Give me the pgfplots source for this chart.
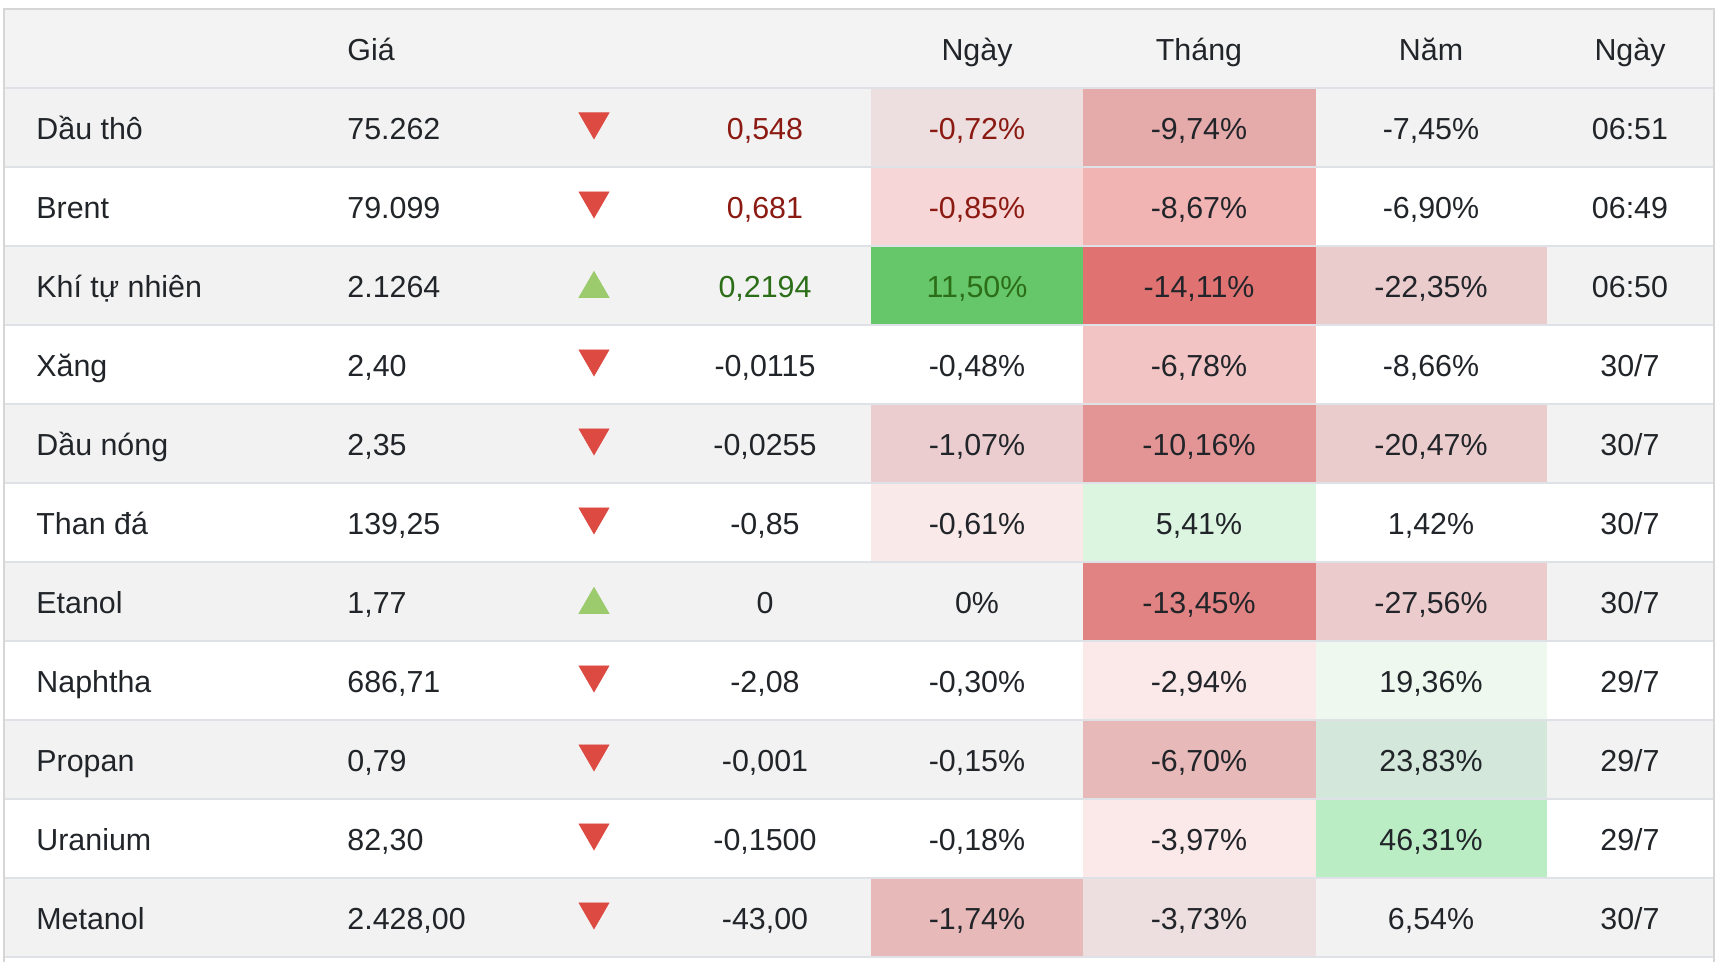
\documentclass[border=0pt]{standalone}
\usepackage{pgfplots}
\pgfplotsset{compat=1.18}
\usepackage{fontspec}
\setmainfont{Liberation Sans}
\definecolor{txt}{HTML}{212529}
\definecolor{rtxt}{HTML}{8B1A12}
\definecolor{gtxt}{HTML}{2C6E18}
\definecolor{hdr}{HTML}{F3F3F3}
\definecolor{stripe}{HTML}{F2F2F2}
\definecolor{sep}{HTML}{DEE2E6}
\definecolor{outer}{HTML}{D6D6D6}
\definecolor{tred}{HTML}{DC4A42}
\definecolor{tgreen}{HTML}{9BCB6C}
\newcommand\cellfont{\fontsize{15.2}{18}\selectfont}
% cell rectangle: x1 x2 ytop ybottom colour
\newcommand\cell[5]{\definecolor{c#5}{HTML}{#5}\addplot[fill=c#5,draw=none] coordinates {(#1,#3) (#2,#3) (#2,#4) (#1,#4)};}
\newcommand\CT[4][txt]{\node[anchor=base,inner sep=0pt,text=#1,font=\cellfont] at (axis cs:#2,#3) {#4};}
\newcommand\LT[3]{\node[anchor=base west,inner sep=0pt,text=txt,font=\cellfont] at (axis cs:#1,#2) {#3};}
\begin{document}
\begin{tikzpicture}
\begin{axis}[
  width=862pt, height=481pt, scale only axis,
  xmin=0, xmax=1724, ymin=0, ymax=962, y dir=reverse,
  hide axis, clip=false,
]
% background
\addplot[fill=white,draw=none] coordinates {(0,0) (1724,0) (1724,962) (0,962)};
% header
\addplot[fill=hdr,draw=none] coordinates {(4,9) (1714,9) (1714,88) (4,88)};
% stripes (rows 1,3,5,7,9,11)
\addplot[fill=stripe,draw=none] coordinates {(4,88) (1714,88) (1714,167) (4,167)};
\addplot[fill=stripe,draw=none] coordinates {(4,246) (1714,246) (1714,325) (4,325)};
\addplot[fill=stripe,draw=none] coordinates {(4,404) (1714,404) (1714,483) (4,483)};
\addplot[fill=stripe,draw=none] coordinates {(4,562) (1714,562) (1714,641) (4,641)};
\addplot[fill=stripe,draw=none] coordinates {(4,720) (1714,720) (1714,799) (4,799)};
\addplot[fill=stripe,draw=none] coordinates {(4,878) (1714,878) (1714,957) (4,957)};
% coloured cells: Ngay 871-1083, Thang 1083-1316, Nam 1316-1547
\cell{871}{1083}{88}{167}{EDDFDF}
\cell{1083}{1316}{88}{167}{E5AAAA}
\cell{871}{1083}{167}{246}{F7D6D7}
\cell{1083}{1316}{167}{246}{F2B3B3}
\cell{871}{1083}{246}{325}{66C66A}
\cell{1083}{1316}{246}{325}{E07372}
\cell{1316}{1547}{246}{325}{EBCCCD}
\cell{1083}{1316}{325}{404}{F3C4C4}
\cell{871}{1083}{404}{483}{EBCDCF}
\cell{1083}{1316}{404}{483}{E39595}
\cell{1316}{1547}{404}{483}{EBCCCD}
\cell{871}{1083}{483}{562}{FAE9E9}
\cell{1083}{1316}{483}{562}{DCF5E0}
\cell{1083}{1316}{562}{641}{E08382}
\cell{1316}{1547}{562}{641}{ECCBCC}
\cell{1083}{1316}{641}{720}{FBE9E9}
\cell{1316}{1547}{641}{720}{EEF8EF}
\cell{1083}{1316}{720}{799}{E7B9B9}
\cell{1316}{1547}{720}{799}{D3E8DA}
\cell{1083}{1316}{799}{878}{FBE9E9}
\cell{1316}{1547}{799}{878}{BBEDC5}
\cell{871}{1083}{878}{957}{E7B9B9}
\cell{1083}{1316}{878}{957}{EDDFDF}
% separators
\addplot[draw=sep,line width=1.4pt] coordinates {(4,88) (1714,88)};
\addplot[draw=sep,line width=1.1pt] coordinates {(4,167) (1714,167)};
\addplot[draw=sep,line width=1.1pt] coordinates {(4,246) (1714,246)};
\addplot[draw=sep,line width=1.1pt] coordinates {(4,325) (1714,325)};
\addplot[draw=sep,line width=1.1pt] coordinates {(4,404) (1714,404)};
\addplot[draw=sep,line width=1.1pt] coordinates {(4,483) (1714,483)};
\addplot[draw=sep,line width=1.1pt] coordinates {(4,562) (1714,562)};
\addplot[draw=sep,line width=1.1pt] coordinates {(4,641) (1714,641)};
\addplot[draw=sep,line width=1.1pt] coordinates {(4,720) (1714,720)};
\addplot[draw=sep,line width=1.1pt] coordinates {(4,799) (1714,799)};
\addplot[draw=sep,line width=1.1pt] coordinates {(4,878) (1714,878)};
\addplot[draw=sep,line width=1.1pt] coordinates {(4,957) (1714,957)};
% outer border
\addplot[draw=outer,line width=1pt] coordinates {(4,962) (4,9) (1714,9) (1714,962)};
% triangles
\addplot[only marks, mark=triangle*, mark size=8.6pt, color=tred, mark options={rotate=180}]
  coordinates {(594,121.5) (594,200.5) (594,358.5) (594,437.5) (594,516.5) (594,674.5) (594,753.5) (594,832.5) (594,911.5)};
\addplot[only marks, mark=triangle*, mark size=8.6pt, color=tgreen]
  coordinates {(594,288.8) (594,604.8)};
% header text
\LT{347}{60.3}{Giá}
\CT{977}{60.3}{Ngày}
\CT{1199}{60.3}{Tháng}
\CT{1431}{60.3}{Năm}
\CT{1630}{60.3}{Ngày}
% row 1
\LT{36}{139.3}{Dầu thô}\LT{347}{139.3}{75.262}
\CT[rtxt]{765}{139.3}{0,548}\CT[rtxt]{977}{139.3}{-0,72\%}
\CT{1199}{139.3}{-9,74\%}\CT{1431}{139.3}{-7,45\%}\CT{1630}{139.3}{06:51}
% row 2
\LT{36}{218.3}{Brent}\LT{347}{218.3}{79.099}
\CT[rtxt]{765}{218.3}{0,681}\CT[rtxt]{977}{218.3}{-0,85\%}
\CT{1199}{218.3}{-8,67\%}\CT{1431}{218.3}{-6,90\%}\CT{1630}{218.3}{06:49}
% row 3
\LT{36}{297.3}{Khí tự nhiên}\LT{347}{297.3}{2.1264}
\CT[gtxt]{765}{297.3}{0,2194}\CT[gtxt]{977}{297.3}{11,50\%}
\CT{1199}{297.3}{-14,11\%}\CT{1431}{297.3}{-22,35\%}\CT{1630}{297.3}{06:50}
% row 4
\LT{36}{376.3}{Xăng}\LT{347}{376.3}{2,40}
\CT{765}{376.3}{-0,0115}\CT{977}{376.3}{-0,48\%}
\CT{1199}{376.3}{-6,78\%}\CT{1431}{376.3}{-8,66\%}\CT{1630}{376.3}{30/7}
% row 5
\LT{36}{455.3}{Dầu nóng}\LT{347}{455.3}{2,35}
\CT{765}{455.3}{-0,0255}\CT{977}{455.3}{-1,07\%}
\CT{1199}{455.3}{-10,16\%}\CT{1431}{455.3}{-20,47\%}\CT{1630}{455.3}{30/7}
% row 6
\LT{36}{534.3}{Than đá}\LT{347}{534.3}{139,25}
\CT{765}{534.3}{-0,85}\CT{977}{534.3}{-0,61\%}
\CT{1199}{534.3}{5,41\%}\CT{1431}{534.3}{1,42\%}\CT{1630}{534.3}{30/7}
% row 7
\LT{36}{613.3}{Etanol}\LT{347}{613.3}{1,77}
\CT{765}{613.3}{0}\CT{977}{613.3}{0\%}
\CT{1199}{613.3}{-13,45\%}\CT{1431}{613.3}{-27,56\%}\CT{1630}{613.3}{30/7}
% row 8
\LT{36}{692.3}{Naphtha}\LT{347}{692.3}{686,71}
\CT{765}{692.3}{-2,08}\CT{977}{692.3}{-0,30\%}
\CT{1199}{692.3}{-2,94\%}\CT{1431}{692.3}{19,36\%}\CT{1630}{692.3}{29/7}
% row 9
\LT{36}{771.3}{Propan}\LT{347}{771.3}{0,79}
\CT{765}{771.3}{-0,001}\CT{977}{771.3}{-0,15\%}
\CT{1199}{771.3}{-6,70\%}\CT{1431}{771.3}{23,83\%}\CT{1630}{771.3}{29/7}
% row 10
\LT{36}{850.3}{Uranium}\LT{347}{850.3}{82,30}
\CT{765}{850.3}{-0,1500}\CT{977}{850.3}{-0,18\%}
\CT{1199}{850.3}{-3,97\%}\CT{1431}{850.3}{46,31\%}\CT{1630}{850.3}{29/7}
% row 11
\LT{36}{929.3}{Metanol}\LT{347}{929.3}{2.428,00}
\CT{765}{929.3}{-43,00}\CT{977}{929.3}{-1,74\%}
\CT{1199}{929.3}{-3,73\%}\CT{1431}{929.3}{6,54\%}\CT{1630}{929.3}{30/7}
\end{axis}
\end{tikzpicture}
\end{document}
